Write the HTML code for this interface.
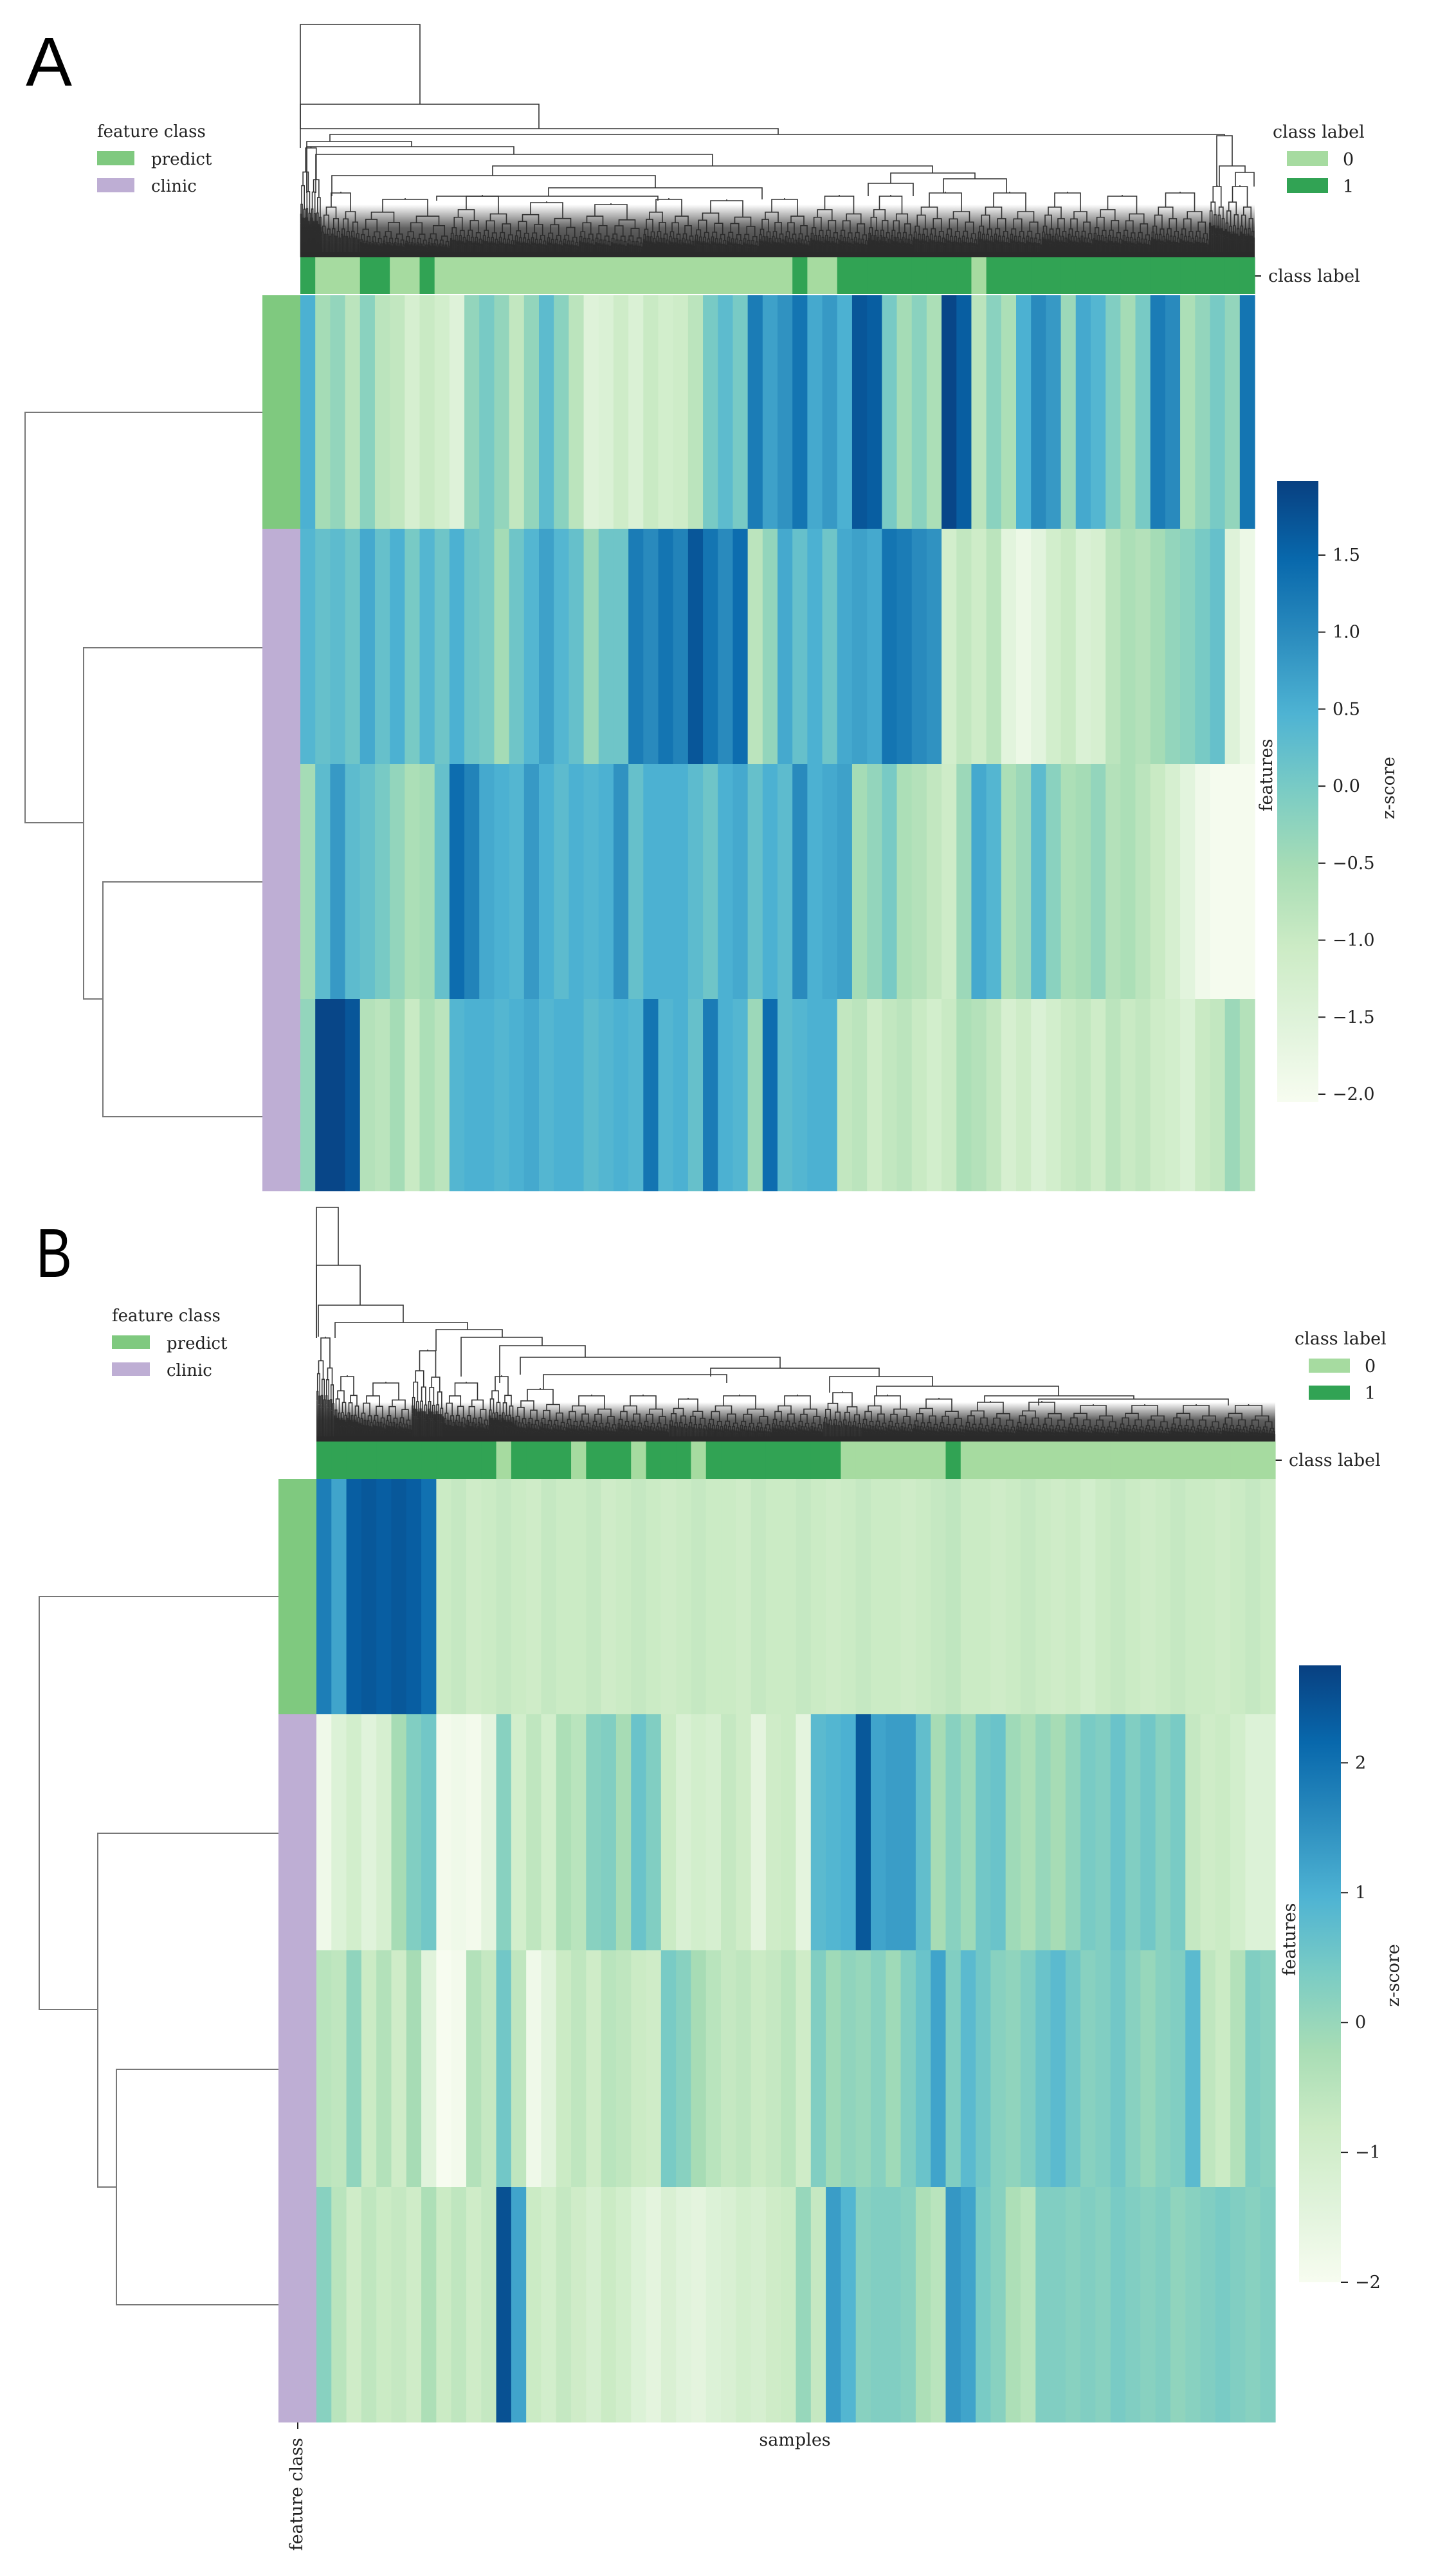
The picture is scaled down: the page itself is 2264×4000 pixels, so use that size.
<!DOCTYPE html>
<html><head><meta charset="utf-8">
<style>
html,body{margin:0;padding:0;background:#fff;}
svg{display:block;}
text{font-family:"DejaVu Serif","Liberation Serif",serif;fill:#222;}
.lbl{font-family:"Liberation Sans",sans-serif;fill:#000;}
</style></head>
<body>
<svg id="fig" xmlns="http://www.w3.org/2000/svg" width="2264" height="4000" viewBox="0 0 2264 4000">
  <rect x="0" y="0" width="2264" height="4000" fill="#fff"/>
  <defs>
    <linearGradient id="gnbuA" x1="0" y1="1" x2="0" y2="0"></linearGradient>
    <linearGradient id="gnbuB" x1="0" y1="1" x2="0" y2="0"></linearGradient>
    <linearGradient id="bandFade" x1="0" y1="0" x2="0" y2="1">
      <stop offset="0" stop-color="#2a2a2a" stop-opacity="0"/>
      <stop offset="0.45" stop-color="#2a2a2a" stop-opacity="0.75"/>
      <stop offset="1" stop-color="#2a2a2a" stop-opacity="0.95"/>
    </linearGradient>
  </defs>
  <text class="lbl" x="40" y="133" font-size="108">A</text>
  <text class="lbl" x="56" y="1985" font-size="108" textLength="56" lengthAdjust="spacingAndGlyphs">B</text>

  <g>
    <text x="151" y="213" font-size="26">feature class</text>
    <rect x="151" y="235" width="58" height="22" fill="#7fc97f"/>
    <text x="235" y="256" font-size="26">predict</text>
    <rect x="151" y="277" width="58" height="22" fill="#beaed4"/>
    <text x="235" y="298" font-size="26">clinic</text>
  </g>
  <g>
    <text x="1979" y="214" font-size="27">class label</text>
    <rect x="2001" y="235" width="64" height="23" fill="#a6dba0"/>
    <text x="2088" y="257" font-size="27">0</text>
    <rect x="2001" y="277" width="64" height="23" fill="#31a354"/>
    <text x="2088" y="299" font-size="27">1</text>
  </g>
  <g>
    <line x1="1951" y1="429" x2="1961" y2="429" stroke="#222" stroke-width="2"/>
    <text x="1972" y="438" font-size="27">class label</text>
  </g>

  <g>
    <text x="174" y="2054" font-size="26">feature class</text>
    <rect x="174" y="2076" width="59" height="21" fill="#7fc97f"/>
    <text x="259" y="2097" font-size="26">predict</text>
    <rect x="174" y="2118" width="59" height="21" fill="#beaed4"/>
    <text x="259" y="2139" font-size="26">clinic</text>
  </g>
  <g>
    <text x="2013" y="2090" font-size="27">class label</text>
    <rect x="2035" y="2112" width="64" height="22" fill="#a6dba0"/>
    <text x="2122" y="2133" font-size="27">0</text>
    <rect x="2035" y="2154" width="64" height="22" fill="#31a354"/>
    <text x="2122" y="2175" font-size="27">1</text>
  </g>
  <g>
    <line x1="1983" y1="2270" x2="1993" y2="2270" stroke="#222" stroke-width="2"/>
    <text x="2004" y="2279" font-size="27">class label</text>
  </g>
  <text x="1236" y="3802" font-size="27" text-anchor="middle">samples</text>
  <line x1="463" y1="3766" x2="463" y2="3776" stroke="#222" stroke-width="2"/>
  <text transform="translate(470,3790) rotate(-90)" font-size="27" text-anchor="end">feature class</text>

  <g id="layer"></g>
</svg>
<script>
// ---------- data ----------
const rowNames = ["predict", "clinic-1", "clinic-2", "clinic-3"];
const rowClassA = ["predict", "clinic", "clinic", "clinic"];
const rowClassB = ["predict", "clinic", "clinic", "clinic"];

const heatA1 = [0.5,-0.5,-0.3,-0.8,-0.2,-0.8,-0.9,-1.3,-1.0,-1.2,-1.5,-0.3,0.0,-0.3,-0.9,-0.3,0.3,-0.2,-0.8,-1.5,-1.4,-1.1,-1.4,-1.0,-1.2,-1.1,-0.8,0.0,0.3,0.0,1.2,0.7,0.9,1.3,0.6,0.8,0.5,1.7,1.6,0.0,-0.5,-0.2,-0.6,1.9,1.6,-0.8,-0.2,-0.6,0.5,1.0,0.8,-0.4,0.6,0.4,-0.1,-0.5,0.0,1.2,1.0,-0.6,-0.3,0.0,-0.3,1.3];
const heatA2 = [0.4,0.2,0.3,0.1,0.6,0.2,0.5,0.0,0.4,0.1,0.5,0.1,0.0,-0.5,0.1,0.4,0.7,0.4,0.2,-0.4,0.1,0.1,1.2,1.0,1.3,1.1,1.7,1.3,1.0,1.4,-0.8,-0.3,0.6,0.2,0.5,0.1,0.6,0.7,0.6,1.3,1.2,1.0,0.9,-1.2,-0.9,-1.1,-0.8,-1.6,-1.8,-1.6,-1.2,-1.0,-1.4,-1.3,-0.8,-0.6,-0.7,-0.5,-0.3,-0.2,0.0,0.2,-1.5,-1.8];
const heatA3 = [-0.5,0.3,0.8,0.3,0.2,0.0,-0.3,-0.6,-0.5,0.2,1.4,1.1,0.6,0.5,0.4,0.8,0.5,0.3,0.5,0.4,0.5,0.9,0.2,0.5,0.5,0.5,0.3,0.1,0.5,0.6,0.2,0.5,0.3,1.0,0.5,0.6,0.7,-0.5,-0.3,0.0,-0.6,-0.7,-0.9,-1.1,-0.4,0.6,0.4,-0.6,-0.4,0.3,-0.2,-0.6,-0.5,-0.3,-0.7,-0.6,-0.8,-1.0,-1.3,-1.6,-1.9,-2.0,-2.0,-2.0];
const heatA4 = [-0.3,1.9,1.9,1.7,-0.7,-0.8,-0.5,-1.0,-0.6,-0.8,0.4,0.5,0.5,0.4,0.5,0.6,0.4,0.5,0.5,0.3,0.4,0.5,0.4,1.3,0.4,0.5,0.2,1.2,0.5,0.4,-0.4,1.4,0.3,0.4,0.5,0.5,-0.9,-0.8,-1.1,-0.9,-0.8,-1.0,-1.2,-1.0,-0.6,-0.7,-0.9,-1.3,-1.1,-1.4,-1.2,-1.0,-0.9,-1.1,-0.8,-1.0,-0.9,-1.1,-1.2,-1.4,-1.0,-0.9,-0.4,-0.7];
const classA = [1,0,0,0,1,1,0,0,1,0,0,0,0,0,0,0,0,0,0,0,0,0,0,0,0,0,0,0,0,0,0,0,0,1,0,0,1,1,1,1,1,1,1,1,1,0,1,1,1,1,1,1,1,1,1,1,1,1,1,1,1,1,1,1];

const heatB1 = [1.8,1.2,2.3,2.4,2.3,2.4,2.3,2.0,-0.8,-0.7,-0.9,-0.8,-0.7,-0.8,-0.9,-0.7,-0.8,-0.8,-0.7,-0.9,-0.8,-0.7,-0.8,-0.9,-0.8,-0.7,-0.8,-0.8,-0.9,-0.7,-0.8,-0.8,-0.7,-0.8,-0.9,-0.8,-0.7,-0.8,-0.8,-0.9,-0.8,-0.7,-0.6,-0.8,-0.8,-0.9,-0.8,-0.7,-0.8,-0.9,-0.8,-1.0,-0.8,-0.7,-0.8,-0.9,-0.8,-0.7,-0.8,-0.8,-0.9,-0.8,-0.7,-0.8];
const heatB2 = [-1.8,-1.3,-1.0,-1.4,-1.1,-0.2,0.3,0.5,-1.9,-1.8,-1.9,-1.5,0.2,-1.0,-0.6,-1.0,-0.3,-0.5,0.2,0.3,-0.2,0.6,0.3,-0.8,-1.2,-1.0,-1.1,-0.7,-0.9,-1.5,-0.9,-0.8,-1.5,0.8,0.9,1.0,2.4,1.2,1.3,1.3,0.7,-0.2,0.2,-0.1,0.5,0.6,-0.1,-0.3,0.0,-0.2,0.1,0.4,0.3,0.6,0.3,0.5,0.2,0.4,-0.7,-0.9,-0.8,-1.0,-1.3,-1.3];
const heatB3 = [-0.5,-0.6,0.1,-0.8,-0.4,-0.9,-0.2,-1.4,-2.0,-1.9,-0.4,-0.7,0.5,-0.6,-1.8,-1.4,-0.8,-0.6,-0.9,-0.5,-0.6,-0.8,-0.9,0.4,0.2,-0.2,-0.5,-0.7,-0.6,-0.8,-0.7,-0.5,-0.9,0.3,-0.1,0.1,0.0,0.2,-0.1,0.3,0.6,1.2,0.3,0.8,0.5,0.2,0.1,0.3,0.6,0.8,0.5,0.2,0.3,0.5,0.2,0.0,0.2,0.3,0.8,-0.6,-0.8,-0.4,0.3,0.2];
const heatB4 = [0.2,-0.5,-0.9,-0.6,-0.8,-0.7,-0.9,-0.3,-0.8,-0.6,-0.9,-0.7,2.5,1.2,-0.8,-1.0,-0.7,-0.9,-1.1,-0.8,-1.0,-1.3,-1.5,-1.2,-1.4,-1.5,-1.3,-1.2,-1.0,-1.1,-0.9,-0.8,0.0,-0.7,1.3,0.9,0.2,0.3,0.3,0.2,-0.3,-0.5,1.4,1.2,0.4,0.2,-0.3,-0.5,0.3,0.3,0.2,0.3,0.2,0.4,0.3,0.2,0.3,0.1,0.2,0.3,0.4,0.3,0.2,0.3];
const classB = [1,1,1,1,1,1,1,1,1,1,1,1,0,1,1,1,1,0,1,1,1,0,1,1,1,0,1,1,1,1,1,1,1,1,1,0,0,0,0,0,0,0,1,0,0,0,0,0,0,0,0,0,0,0,0,0,0,0,0,0,0,0,0,0];

const ticksA = [1.5, 1.0, 0.5, 0.0, -0.5, -1.0, -1.5, -2.0];
const tickLabelsA = ["1.5", "1.0", "0.5", "0.0", "\u22120.5", "\u22121.0", "\u22121.5", "\u22122.0"];
const ticksB = [2, 1, 0, -1, -2];
const tickLabelsB = ["2", "1", "0", "\u22121", "\u22122"];
const rangeA = [-2.05, 1.98];
const rangeB = [-2.0, 2.75];

// ---------- layout ----------
const NS = "http://www.w3.org/2000/svg";
const layer = document.getElementById('layer');
const GNBU = ["#f7fcf0","#e0f3db","#ccebc5","#a8ddb5","#7bccc4","#4eb3d3","#2b8cbe","#0868ac","#084081"];
const CLASS_COL = ["#a6dba0", "#31a354"];
const ROWCLASS_COL = {predict: "#7fc97f", clinic: "#beaed4"};

function mk(tag, attrs, parent) {
  const e = document.createElementNS(NS, tag);
  for (const k in attrs) e.setAttribute(k, attrs[k]);
  (parent || layer).appendChild(e);
  return e;
}
function hex(h){return [parseInt(h.substr(1,2),16),parseInt(h.substr(3,2),16),parseInt(h.substr(5,2),16)];}
function cmap(t) {
  t = Math.max(0, Math.min(1, t));
  const p = t * (GNBU.length - 1), i = Math.min(GNBU.length - 2, Math.floor(p)), f = p - i;
  const a = hex(GNBU[i]), b = hex(GNBU[i+1]);
  return "rgb(" + a.map((v,k)=>Math.round(v + (b[k]-v)*f)).join(",") + ")";
}
function fillGrad(id) {
  const g = document.getElementById(id);
  GNBU.forEach((c, i) => {
    const s = document.createElementNS(NS, 'stop');
    s.setAttribute('offset', (i/(GNBU.length-1)*100) + '%');
    s.setAttribute('stop-color', c);
    g.appendChild(s);
  });
}
fillGrad('gnbuA'); fillGrad('gnbuB');

function panel(cfg) {
  const g = mk('g', {});
  
  
  const rows = cfg.rows;
  const N = rows[0].length;
  const x0 = cfg.x0, x1 = cfg.x1;
  const colX = i => x0 + i * (x1 - x0) / N;
  const tNorm = v => (v - cfg.range[0]) / (cfg.range[1] - cfg.range[0]);
  rows.forEach((vals, r) => {
    const ya = cfg.rowY[r], yb = cfg.rowY[r+1];
    vals.forEach((v, i) => {
      const c = mk('rect', {x: colX(i).toFixed(2), y: ya, width: ((x1-x0)/N + 0.6).toFixed(2), height: yb - ya, fill: cmap(tNorm(v))}, g);
      
      
    });
  });
  cfg.cls.forEach((v, i) => {
    const c = mk('rect', {x: colX(i).toFixed(2), y: cfg.classY[0], width: ((x1-x0)/N + 0.6).toFixed(2), height: cfg.classY[1]-cfg.classY[0], fill: CLASS_COL[v]}, g);
    
    
  });
  cfg.rowCls.forEach((k, r) => {
    const c = mk('rect', {x: cfg.rowBarX[0], y: cfg.rowY[r], width: cfg.rowBarX[1]-cfg.rowBarX[0], height: cfg.rowY[r+1]-cfg.rowY[r], fill: ROWCLASS_COL[k]}, g);
    
    
  });
  const cb = cfg.cbar;
  const cbr = mk('rect', {x: cb.x, y: cb.y0, width: cb.w, height: cb.y1 - cb.y0, fill: 'url(#' + cfg.grad + ')'}, g);
  
  
  const cy = v => cb.y1 - (v - cfg.range[0]) / (cfg.range[1] - cfg.range[0]) * (cb.y1 - cb.y0);
  cfg.ticks.forEach((t, i) => {
    mk('line', {x1: cb.x + cb.w, x2: cb.x + cb.w + 11, y1: cy(t), y2: cy(t), stroke: '#222', 'stroke-width': 2}, g);
    const tx = mk('text', {x: cb.x + cb.w + 22, y: cy(t) + 9, 'font-size': 27}, g);
    tx.textContent = cfg.tickLabels[i];
    
    
  });
  const zt = mk('text', {transform: 'translate(' + cb.ztx + ',' + cb.zty + ') rotate(-90)', 'font-size': 27, 'text-anchor': 'middle'}, g);
  zt.textContent = 'z-score';
  
  
  const ft = mk('text', {transform: 'translate(' + cb.ftx + ',' + cb.fty + ') rotate(-90)', 'font-size': 27, 'text-anchor': 'middle'}, g);
  ft.textContent = 'features';
  
  
  const rd = cfg.rowDend;
  const rdg = mk('g', {fill: 'none', stroke: '#777', 'stroke-width': 2}, g);
  
  
  rd.forEach(l => {
    mk('path', {d: 'M' + l[3] + ',' + l[1] + 'H' + l[0] + 'V' + l[2] + 'H' + l[4]}, rdg);
  });
  const cdg = mk('g', {fill: 'none', stroke: '#333', 'stroke-width': 1.6}, g);
  
  
  cfg.links.forEach(l => {
    mk('path', {d: 'M' + l[0] + ',' + l[3] + 'V' + l[2] + 'H' + l[1] + 'V' + l[4]}, cdg);
  });
  const yb = cfg.classY[0];
  function dense(a, b, y, depth) {
    const mid = (a + b) / 2;
    if (b - a < 2 || depth > 11) { mk('line', {x1: mid, x2: mid, y1: y, y2: yb}, cdg); return; }
    const cl = (a + mid) / 2, cr = (mid + b) / 2;
    const f = [0.22, 0.16, 0.26, 0.19][depth % 4];
    const yl = y + (yb - y) * f, yr = y + (yb - y) * (f + 0.07);
    mk('path', {d: 'M' + cl + ',' + yl + 'V' + y + 'H' + cr + 'V' + yr}, cdg);
    dense(a, mid, yl, depth + 1);
    dense(mid, b, yr, depth + 1);
  }
  cfg.dense.forEach(d => {
    mk('line', {x1: (d[0]+d[1])/2, x2: (d[0]+d[1])/2, y1: d[2] - 2, y2: d[2]}, cdg);
    dense(d[0], d[1], d[2], 0);
  });
  const band = mk('rect', {x: x0, y: cfg.band[0], width: x1 - x0, height: yb - cfg.band[0], fill: 'url(#bandFade)'}, g);
  
  
  mk('rect', {x: x0, y: yb - 8, width: x1 - x0, height: 8, fill: '#2a2a2a'}, g);
}

panel({
  name: 'panel-a', rows: [heatA1, heatA2, heatA3, heatA4], cls: classA, rowCls: rowClassA,
  x0: 467, x1: 1951, rowY: [459, 822, 1188, 1553, 1852], classY: [400, 457], rowBarX: [408, 467],
  range: rangeA, ticks: ticksA, tickLabels: tickLabelsA, grad: 'gnbuA', band: [318],
  cbar: {x: 1986, w: 64, y0: 748, y1: 1713, ztx: 2168, zty: 1225, ftx: 1978, fty: 1205},
  rowDend: [[160, 1371, 1736, 408, 408], [130, 1007, 1553, 408, 160], [39, 641, 1279, 408, 130]],
  links: [
    [467, 653, 38, 200, 162], [467, 838, 162, 200, 200], [467, 1210, 200, 230, 209],
    [513, 1904, 209, 220, 211], [1892, 1916, 211, 290, 258], [1896, 1936, 258, 290, 268],
    [1921, 1950, 268, 290, 290], [477, 640, 220, 300, 228], [477, 799, 228, 300, 240],
    [491, 1108, 240, 300, 258], [766, 1450, 258, 273, 269], [516, 1019, 273, 305, 292],
    [853, 1185, 292, 305, 310], [679, 1023, 305, 312, 312], [1385, 1516, 269, 285, 278],
    [1467, 1565, 278, 300, 300], [1350, 1420, 285, 305, 305]
  ],
  dense: [[467,500,230],[500,560,300],[560,700,310],[700,800,305],[800,900,315],[900,1000,318],[1000,1080,310],[1080,1180,312],[1180,1260,310],[1260,1350,305],[1350,1420,305],[1420,1520,300],[1520,1620,300],[1620,1700,300],[1700,1790,305],[1790,1880,300],[1880,1905,290],[1905,1951,290]]
});

panel({
  name: 'panel-b', rows: [heatB1, heatB2, heatB3, heatB4], cls: classB, rowCls: rowClassB,
  x0: 492, x1: 1983, rowY: [2299, 2665, 3032, 3400, 3766], classY: [2241, 2299], rowBarX: [433, 492],
  range: rangeB, ticks: ticksB, tickLabels: tickLabelsB, grad: 'gnbuB', band: [2180],
  cbar: {x: 2020, w: 65, y0: 2589, y1: 3548, ztx: 2175, zty: 3071, ftx: 2014, fty: 3015},
  rowDend: [[181, 3217, 3583, 433, 433], [152, 2850, 3400, 433, 181], [61, 2482, 3124, 433, 152]],
  links: [
    [492, 526, 1877, 2080, 1967], [492, 560, 1967, 2080, 2029], [495, 627, 2029, 2078, 2056],
    [521, 727, 2056, 2080, 2067], [678, 781, 2067, 2100, 2079], [717, 843, 2079, 2140, 2092],
    [777, 910, 2092, 2150, 2110], [809, 1213, 2110, 2137, 2127], [845, 1130, 2137, 2160, 2150],
    [1105, 1367, 2127, 2140, 2140], [1290, 1450, 2140, 2165, 2155], [1363, 1646, 2155, 2170, 2170],
    [1531, 1763, 2170, 2180, 2175], [1615, 1910, 2175, 2185, 2185]
  ],
  dense: [[492,520,2080],[520,560,2140],[560,640,2150],[640,690,2100],[690,760,2150],[760,800,2140],[800,880,2160],[880,960,2170],[960,1040,2170],[1040,1100,2175],[1100,1200,2170],[1200,1280,2170],[1280,1340,2165],[1340,1420,2170],[1420,1500,2175],[1500,1580,2180],[1580,1660,2180],[1660,1740,2185],[1740,1820,2185],[1820,1900,2185],[1900,1983,2185]]
});
</script>
</body></html>
